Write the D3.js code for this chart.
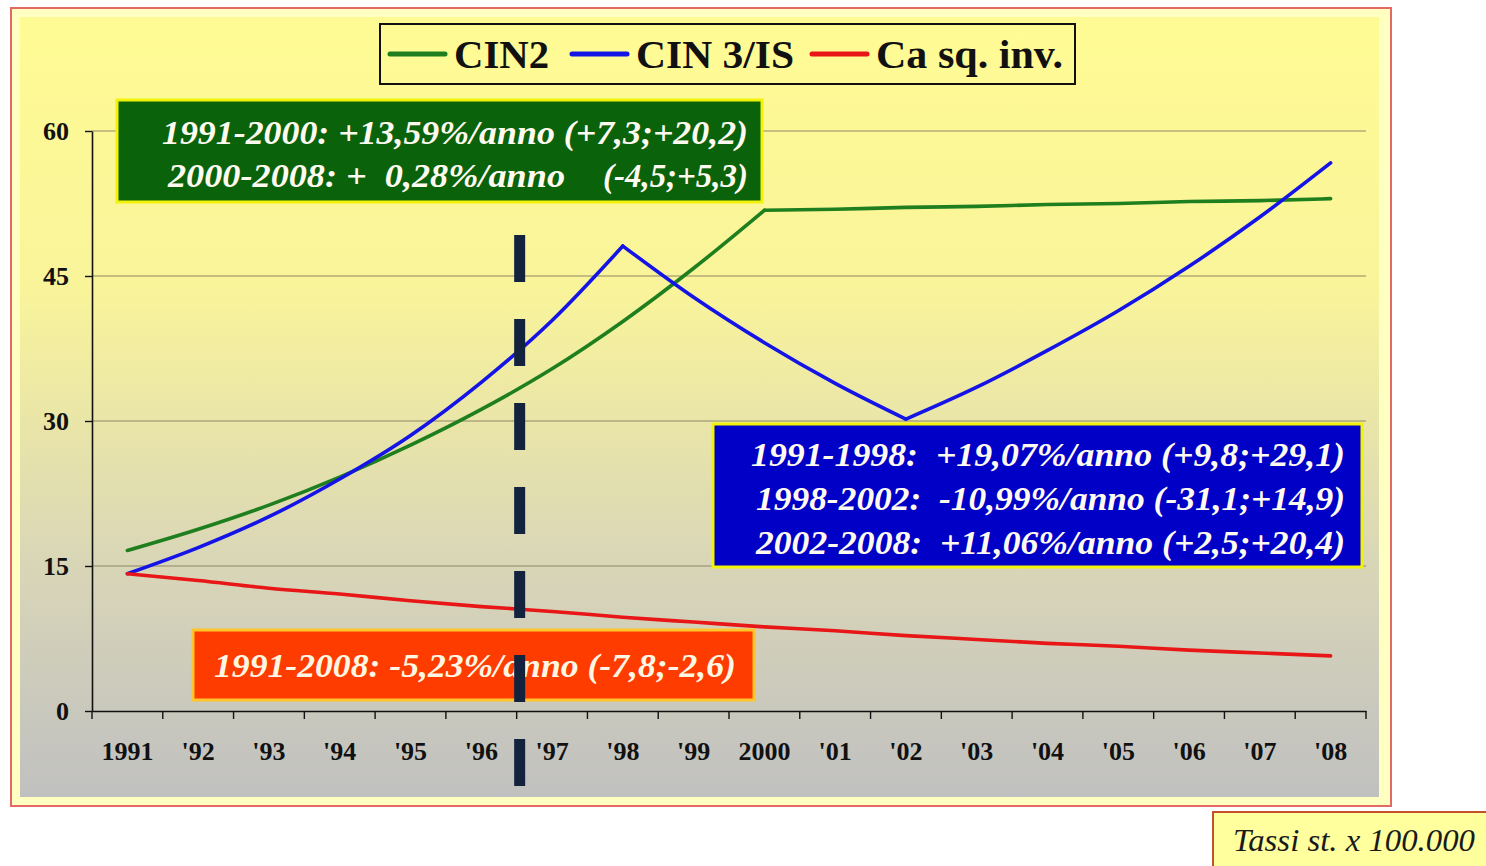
<!DOCTYPE html>
<html>
<head>
<meta charset="utf-8">
<script src="https://cdn.jsdelivr.net/npm/d3@7/dist/d3.min.js"></script>
<style>
  html, body { margin: 0; padding: 0; background: #ffffff; }
  svg { display: block; }
  text { font-family: "Liberation Serif", "Times New Roman", serif; }
</style>
</head>
<body>
<svg id="chart" width="1486" height="866"></svg>
<script>
// ---------------- DATA ----------------
const years = ["1991", "'92", "'93", "'94", "'95", "'96", "'97", "'98", "'99", "2000",
               "'01", "'02", "'03", "'04", "'05", "'06", "'07", "'08"];
const cin2 = [16.6, 18.8, 21.3, 24.2, 27.5, 31.2, 35.4, 40.3, 45.8, 51.8,
              51.9, 52.1, 52.2, 52.4, 52.5, 52.7, 52.8, 53.0];
const cin3 = [14.2, 16.9, 20.1, 24.0, 28.5, 34.0, 40.4, 48.1, 42.8, 38.1,
              33.9, 30.2, 33.5, 37.3, 41.4, 46.0, 51.1, 56.7];
const caSq = [14.2, 13.5, 12.7, 12.1, 11.4, 10.8, 10.3, 9.7, 9.2, 8.7,
              8.3, 7.8, 7.4, 7.0, 6.7, 6.3, 6.0, 5.7];
// trend break years (joinpoints) of each series
const cin2Breaks = ["2000"];
const cin3Breaks = ["'98", "'02"];
const caSqBreaks = [];
const yTicks = [0, 15, 30, 45, 60];
const seriesNames = ["CIN2", "CIN 3/IS", "Ca sq. inv."];
const seriesColors = ["#1f7f1f", "#1414e6", "#e81616"];
const markerYear = "'97";
const greenNotes = ["1991-2000: +13,59%/anno (+7,3;+20,2)", "2000-2008: +  0,28%/anno", "(-4,5;+5,3)"];
const blueNotes = ["1991-1998:  +19,07%/anno (+9,8;+29,1)",
                   "1998-2002:  -10,99%/anno (-31,1;+14,9)",
                   "2002-2008:  +11,06%/anno (+2,5;+20,4)"];
const redNote = "1991-2008: -5,23%/anno (-7,8;-2,6)";
const unitNote = "Tassi st. x 100.000";

// ---------------- LAYOUT ----------------
const svg = d3.select("#chart");
const plotL = 92, plotR = 1366, plotT = 131, plotB = 711;

const defs = svg.append("defs");
const grad = defs.append("linearGradient").attr("id", "bg").attr("x1", 0).attr("y1", 0).attr("x2", 0).attr("y2", 1);
grad.append("stop").attr("offset", "0%").attr("stop-color", "#fffb94");
grad.append("stop").attr("offset", "35%").attr("stop-color", "#f9f49a");
grad.append("stop").attr("offset", "70%").attr("stop-color", "#d9d6b7");
grad.append("stop").attr("offset", "100%").attr("stop-color", "#c0c0c0");

// outer frame
svg.append("rect").attr("x", 11).attr("y", 8).attr("width", 1380).attr("height", 798)
  .attr("fill", "#ffffc2").attr("stroke", "#e26a62").attr("stroke-width", 2);
svg.append("rect").attr("x", 20).attr("y", 17).attr("width", 1359).attr("height", 780)
  .attr("fill", "url(#bg)");

const x = d3.scaleBand().domain(years).range([plotL, plotR]).padding(0);
const y = d3.scaleLinear().domain([0, 60]).range([plotB, plotT]);
const cx = d => x(d) + x.bandwidth() / 2;

// gridlines
svg.append("g").selectAll("line").data(yTicks.filter(t => t > 0)).join("line")
  .attr("x1", plotL).attr("x2", plotR)
  .attr("y1", d => y(d)).attr("y2", d => y(d))
  .attr("stroke", "#8f8567").attr("stroke-width", 1.2);

// y axis
const yAxis = svg.append("g").attr("transform", `translate(${plotL},0)`)
  .call(d3.axisLeft(y).tickValues(yTicks).tickSize(7).tickSizeOuter(0).tickPadding(16));
yAxis.selectAll("text").attr("font-size", 26).attr("font-weight", "bold").attr("fill", "#111")
  .style("font-family", "Liberation Serif");
yAxis.select(".domain").attr("stroke", "#111").attr("stroke-width", 1.6);
yAxis.selectAll(".tick line").attr("stroke", "#111").attr("stroke-width", 1.4);

// x axis
const xAxis = svg.append("g").attr("transform", `translate(0,${plotB})`)
  .call(d3.axisBottom(x).tickSize(0).tickSizeOuter(0).tickPadding(31));
xAxis.selectAll("text").attr("font-size", 26).attr("font-weight", "bold").attr("fill", "#111")
  .style("font-family", "Liberation Serif");
xAxis.select(".domain").attr("stroke", "#111").attr("stroke-width", 1.6);
const boundaries = years.map(d => x(d)).concat([x.range()[1]]);
xAxis.append("g").selectAll("line").data(boundaries).join("line")
  .attr("x1", d => d).attr("x2", d => d).attr("y1", 0).attr("y2", 8)
  .attr("stroke", "#111").attr("stroke-width", 1.4);

// series lines: smooth within each trend segment, sharp at joinpoints
const line = d3.line().x(d => cx(d.year)).y(d => y(d.v)).curve(d3.curveMonotoneX);
function segments(values, breaks) {
  const pts = values.map((v, i) => ({ year: years[i], v }));
  const cuts = [0].concat(breaks.map(b => years.indexOf(b))).concat([years.length - 1]);
  const segs = [];
  for (let k = 0; k < cuts.length - 1; k++) segs.push(pts.slice(cuts[k], cuts[k + 1] + 1));
  return segs;
}
[[cin2, cin2Breaks], [cin3, cin3Breaks], [caSq, caSqBreaks]].forEach(([s, br], k) => {
  svg.append("g").selectAll("path").data(segments(s, br)).join("path")
    .attr("d", line)
    .attr("fill", "none").attr("stroke", seriesColors[k]).attr("stroke-width", 3.6)
    .attr("stroke-linejoin", "round").attr("stroke-linecap", "round");
});

// legend
const lg = svg.append("g");
lg.append("rect").attr("x", 380).attr("y", 24).attr("width", 695).attr("height", 60)
  .attr("fill", "none").attr("stroke", "#111").attr("stroke-width", 2);
const legX = [390, 572, 812];
const legW = [95, 158, 187];
seriesNames.forEach((n, i) => {
  lg.append("line").attr("x1", legX[i]).attr("x2", legX[i] + 55).attr("y1", 54).attr("y2", 54)
    .attr("stroke", seriesColors[i]).attr("stroke-width", 5).attr("stroke-linecap", "round");
  lg.append("text").attr("x", legX[i] + 64).attr("y", 68).text(n)
    .attr("font-size", 41).attr("font-weight", "bold").attr("fill", "#111")
    .attr("textLength", legW[i]).attr("lengthAdjust", "spacingAndGlyphs");
});

// annotation boxes
function noteText(g, str, xx, yy, anchor, size, fill, len) {
  return g.append("text").attr("x", xx).attr("y", yy).attr("text-anchor", anchor)
    .attr("font-size", size).attr("font-weight", "bold").attr("font-style", "italic")
    .attr("fill", fill).attr("xml:space", "preserve").style("white-space", "pre")
    .attr("textLength", len).attr("lengthAdjust", "spacingAndGlyphs").text(str);
}
const gg = svg.append("g");
gg.append("rect").attr("x", 117).attr("y", 100).attr("width", 645).attr("height", 102)
  .attr("fill", "#0a620a").attr("stroke", "#f2f20a").attr("stroke-width", 3);
noteText(gg, greenNotes[0], 162, 144, "start", 33, "#fffaf0", 586);
noteText(gg, greenNotes[1], 168, 187, "start", 33, "#fffaf0", 397);
noteText(gg, greenNotes[2], 603, 187, "start", 33, "#fffaf0", 145);

const bg = svg.append("g");
bg.append("rect").attr("x", 713).attr("y", 424).attr("width", 649).attr("height", 143)
  .attr("fill", "#0000c6").attr("stroke", "#f2f20a").attr("stroke-width", 3);
const blueStart = [751, 756, 756];
blueNotes.forEach((t, i) => noteText(bg, t, blueStart[i], 466 + i * 44, "start", 33, "#fffaf0", 1345 - blueStart[i]));

const rg = svg.append("g");
rg.append("rect").attr("x", 193).attr("y", 630).attr("width", 561).attr("height", 70)
  .attr("fill", "#ff3c00").attr("stroke", "#ffc52a").attr("stroke-width", 3);
noteText(rg, redNote, 214, 677, "start", 33, "#fff6e4", 522);

// dashed marker line
const mx = x(markerYear) + 3;
svg.append("line").attr("x1", mx).attr("x2", mx).attr("y1", 235).attr("y2", 786)
  .attr("stroke", "#13233d").attr("stroke-width", 11).attr("stroke-dasharray", "47,37");

// unit note
const ug = svg.append("g");
ug.append("rect").attr("x", 1213).attr("y", 812).attr("width", 290).attr("height", 70)
  .attr("fill", "#ffff9e").attr("stroke", "#c4502c").attr("stroke-width", 2);
ug.append("text").attr("x", 1233).attr("y", 851).attr("font-size", 31).attr("font-style", "italic")
  .attr("fill", "#1a1a1a").attr("textLength", 242).attr("lengthAdjust", "spacingAndGlyphs").text(unitNote);
</script>
</body>
</html>
